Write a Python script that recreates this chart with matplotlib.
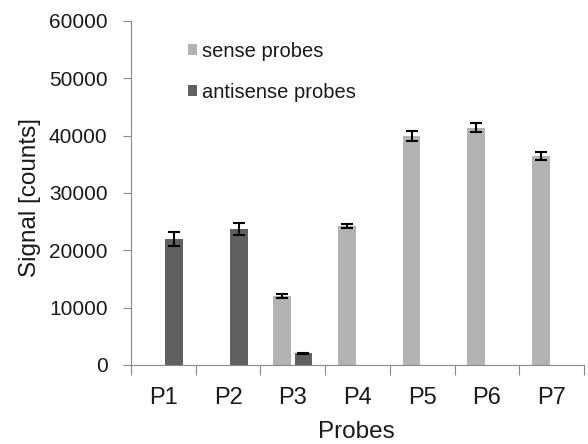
import numpy as np
import matplotlib.pyplot as plt

plt.rcParams['font.family'] = ['Liberation Sans', 'DejaVu Sans']

probes = ["P1", "P2", "P3", "P4", "P5", "P6", "P7"]
sense = [0, 0, 12000, 24200, 39900, 41400, 36400]
sense_err = [0, 0, 300, 400, 900, 800, 700]
antisense = [22000, 23700, 2000, 0, 0, 0, 0]
antisense_err = [1200, 1100, 150, 0, 0, 0, 0]

x = np.arange(len(probes))
w = 0.27

fig = plt.figure(figsize=(5.88, 4.44), dpi=100)
ax = fig.add_axes([0.223, 0.178, 0.770, 0.775])

sx = [i for i in x if sense[i] > 0]
ax.bar(x[sx] - 0.165, [sense[i] for i in sx], w, color="#b3b3b3",
       yerr=[sense_err[i] for i in sx], capsize=4,
       error_kw=dict(ecolor="black", elinewidth=1.5, capthick=1.5),
       label="sense probes")
ax_ = [i for i in x if antisense[i] > 0]
ax.bar(x[ax_] + 0.165, [antisense[i] for i in ax_], w, color="#606060",
       yerr=[antisense_err[i] for i in ax_], capsize=4,
       error_kw=dict(ecolor="black", elinewidth=1.5, capthick=1.5),
       label="antisense probes")

ax.set_xlim(-0.5, 6.5)
ax.set_ylim(0, 60000)
ax.set_yticks(range(0, 60001, 10000))
ax.set_xticks(np.arange(-0.5, 7, 1), minor=False)
ax.set_xticklabels([])
ax.set_xticks(x, minor=True)
ax.set_xticklabels(probes, minor=True)
ax.tick_params(axis="x", which="minor", length=0, labelsize=17, pad=16, colors="#1a1a1a")
ax.tick_params(axis="x", which="major", length=7, color="#888888")
ax.tick_params(axis="y", length=6, color="#888888", labelsize=15, pad=11,
               labelcolor="#1a1a1a")

for s in ["top", "right"]:
    ax.spines[s].set_visible(False)
for s in ["left", "bottom"]:
    ax.spines[s].set_color("#888888")

ax.set_ylabel("Signal [counts]", fontsize=17.5, color="#1a1a1a")
ax.yaxis.set_label_coords(-0.2, 0.487)
ax.set_xlabel("Probes", fontsize=17.5, color="#1a1a1a")
ax.xaxis.set_label_coords(0.498, -0.163)

ax.legend(loc="upper left", bbox_to_anchor=(0.085, 0.992), frameon=False,
          fontsize=14.5, handlelength=0.45, handleheight=0.45, handletextpad=0.25,
          labelspacing=1.1, labelcolor="#1a1a1a")

fig.savefig("out.png", dpi=100)
